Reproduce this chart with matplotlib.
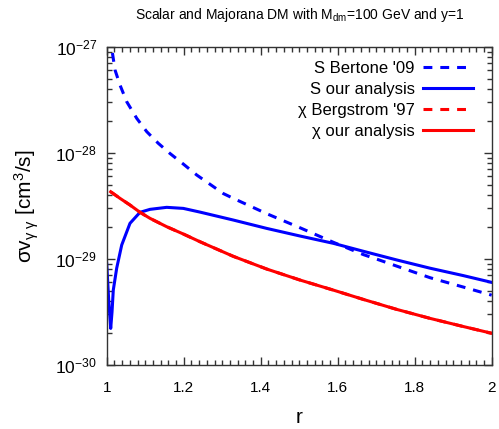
import numpy as np
import matplotlib
matplotlib.use("Agg")
import matplotlib.pyplot as plt
from matplotlib.ticker import MultipleLocator, LogLocator, NullFormatter, FixedLocator

plt.rcParams['font.family'] = ['Liberation Sans', 'DejaVu Sans']
plt.rcParams['mathtext.fontset'] = 'custom'
plt.rcParams['mathtext.rm'] = 'Liberation Sans'
plt.rcParams['mathtext.it'] = 'Liberation Sans'
plt.rcParams['mathtext.bf'] = 'Liberation Sans:bold'

# Scalar DM, Bertone et al. 2009: r and log10(sigma v) [cm^3/s]
r_s_bertone = [1.008, 1.013, 1.0216, 1.0345, 1.052, 1.078, 1.104, 1.134, 1.164,
               1.199, 1.234, 1.303, 1.3288, 1.4156, 1.5021, 1.5886, 1.667, 1.7099,
               1.753, 1.84, 1.926, 2.0]
log_sv_s_bertone = [-26.90, -27.012, -27.217, -27.359, -27.517, -27.674, -27.80,
                    -27.91, -28.005, -28.106, -28.21, -28.385, -28.43, -28.575,
                    -28.708, -28.845, -28.962, -29.015, -29.07, -29.18, -29.268,
                    -29.345]

# Scalar DM, this analysis
r_s_ours = [1.000, 1.0052, 1.0104, 1.0138, 1.0171, 1.026, 1.039, 1.0605, 1.0865,
            1.1125, 1.1558, 1.199, 1.2423, 1.3288, 1.4156, 1.5021, 1.5886, 1.6665,
            1.7532, 1.8397, 1.9262, 2.0]
log_sv_s_ours = [-29.044, -29.391, -29.659, -29.505, -29.297, -29.089, -28.871,
                 -28.666, -28.562, -28.534, -28.515, -28.525, -28.56, -28.635,
                 -28.714, -28.786, -28.855, -28.93, -29.012, -29.09, -29.16,
                 -29.224]

# Majorana DM, this analysis
r_chi_ours = [1.0104, 1.0345, 1.0605, 1.0865, 1.1125, 1.1558, 1.199, 1.2423,
              1.3288, 1.4156, 1.5021, 1.5886, 1.6665, 1.753, 1.8397, 1.926, 2.0]
log_sv_chi_ours = [-28.368, -28.430, -28.493, -28.562, -28.619, -28.698, -28.767,
                   -28.840, -28.978, -29.098, -29.202, -29.297, -29.385, -29.479,
                   -29.564, -29.641, -29.705]

# Majorana DM, Bergstrom & Ullio 1997 (coincides with this analysis)
r_chi_bergstrom = list(r_chi_ours)
log_sv_chi_bergstrom = list(log_sv_chi_ours)

x_ticks = [1, 1.2, 1.4, 1.6, 1.8, 2]
x_tick_labels = ['1', '1.2', '1.4', '1.6', '1.8', '2']
y_ticks = [1e-30, 1e-29, 1e-28, 1e-27]
y_tick_labels = ['10$^{-30}$', '10$^{-29}$', '10$^{-28}$', '10$^{-27}$']

W, H = 499, 429
fig = plt.figure(figsize=(W / 100, H / 100), dpi=100)
left, right, top, bottom = 106.7, 491.7, 47.0, 364.5
ax = fig.add_axes([left / W, (H - bottom) / H, (right - left) / W, (bottom - top) / H])

blue = '#0000ff'
red = '#ff0000'
lw = 2.2
dash = (0, (2.9, 2.6))

ax.plot(r_s_bertone, 10.0 ** np.array(log_sv_s_bertone), color=blue, lw=lw, ls=dash,
        label="S Bertone '09")
ax.plot(r_s_ours, 10.0 ** np.array(log_sv_s_ours), color=blue, lw=lw,
        label="S our analysis")
ax.plot(r_chi_bergstrom, 10.0 ** np.array(log_sv_chi_bergstrom), color=red, lw=lw, ls=dash,
        label="χ Bergstrom '97")
ax.plot(r_chi_ours, 10.0 ** np.array(log_sv_chi_ours), color=red, lw=lw,
        label="χ our analysis")

ax.set_yscale('log')
ax.set_xlim(1, 2)
ax.set_ylim(1e-30, 1e-27)

frame = '#333333'
for s in ax.spines.values():
    s.set_color(frame)
    s.set_linewidth(1.0)

ax.xaxis.set_major_locator(FixedLocator(x_ticks))
ax.set_xticklabels(x_tick_labels)
ax.xaxis.set_minor_locator(MultipleLocator(0.02))
ax.yaxis.set_major_locator(FixedLocator(y_ticks))
ax.set_yticklabels(y_tick_labels)
ax.yaxis.set_minor_locator(LogLocator(base=10, subs=np.arange(2, 10)))
ax.yaxis.set_minor_formatter(NullFormatter())

ax.tick_params(which='both', direction='in', top=True, right=True, color=frame, width=1.0)
ax.tick_params(which='major', length=6)
ax.tick_params(which='minor', length=3.5)
ax.tick_params(axis='x', which='major', labelsize=11, pad=12)
ax.tick_params(axis='y', which='major', labelsize=12.5, pad=7)

ax.set_xlabel('r', fontsize=15, labelpad=9)
ax.set_ylabel('σv$_{\\mathrm{γ\\ γ}}$ [cm$^3$/s]', fontsize=15, labelpad=10)

fig.text((left + right) / 2 / W, 1 - 15 / H,
         'Scalar and Majorana DM with M$_{\\mathrm{dm}}$=100 GeV and y=1',
         ha='center', va='center', fontsize=10)

leg = ax.legend(loc='upper right', bbox_to_anchor=((473.3 - left) / (right - left),
                                                   (bottom - 61) / (bottom - top)),
                markerfirst=False, frameon=False, handlelength=3.0, handletextpad=0.5,
                labelspacing=0.355, borderpad=0, borderaxespad=0, fontsize=12)

fig.savefig('out.png', dpi=100)
